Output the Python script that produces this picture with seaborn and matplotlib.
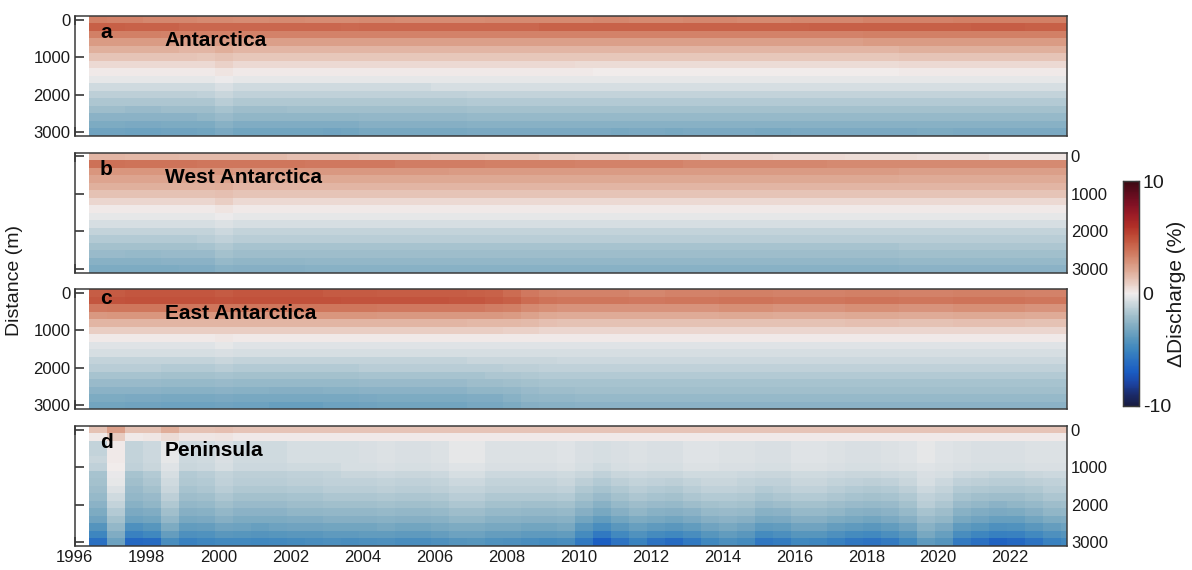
import matplotlib
matplotlib.use("Agg")
import matplotlib.pyplot as plt
import numpy as np
import pandas as pd
import seaborn as sns
from matplotlib.colors import LinearSegmentedColormap

# Centre of each half-yearly time step (decimal year)
epochs = [1996.65, 1997.15, 1997.65, 1998.15, 1998.65, 1999.15, 1999.65, 2000.15, 2000.65,
          2001.15, 2001.65, 2002.15, 2002.65, 2003.15, 2003.65, 2004.15, 2004.65, 2005.15,
          2005.65, 2006.15, 2006.65, 2007.15, 2007.65, 2008.15, 2008.65, 2009.15, 2009.65,
          2010.15, 2010.65, 2011.15, 2011.65, 2012.15, 2012.65, 2013.15, 2013.65, 2014.15,
          2014.65, 2015.15, 2015.65, 2016.15, 2016.65, 2017.15, 2017.65, 2018.15, 2018.65,
          2019.15, 2019.65, 2020.15, 2020.65, 2021.15, 2021.65, 2022.15, 2022.65, 2023.15,
          2023.65]

# Distance bins (m)
distances = [0, 200, 400, 600, 800, 1000, 1200, 1400, 1600, 1800, 2000, 2200, 2400, 2600, 2800, 3000]

# Discharge change, one 0-3000 m profile per time step, in tenths of a percent
antarctica = [
    [34, 44, 34, 25, 18, 12, 6, 1, -3, -8, -13, -17, -21, -26, -30, -34],
    [33, 44, 34, 25, 18, 12, 6, 1, -3, -8, -13, -17, -21, -26, -30, -34],
    [33, 43, 34, 25, 18, 12, 6, 1, -3, -8, -13, -17, -22, -26, -31, -35],
    [32, 43, 34, 25, 18, 12, 6, 1, -3, -8, -13, -17, -22, -26, -31, -35],
    [32, 43, 33, 25, 18, 12, 6, 1, -3, -8, -13, -17, -21, -26, -30, -34],
    [32, 42, 33, 24, 17, 12, 6, 1, -3, -8, -13, -17, -21, -26, -30, -34],
    [31, 42, 33, 24, 17, 11, 6, 1, -3, -8, -12, -17, -21, -25, -30, -33],
    [31, 42, 33, 25, 19, 13, 8, 3, -1, -6, -10, -14, -18, -22, -27, -31],
    [30, 42, 33, 24, 17, 11, 6, 1, -3, -8, -12, -16, -21, -25, -29, -33],
    [30, 42, 33, 24, 17, 11, 6, 1, -3, -8, -12, -16, -21, -25, -29, -33],
    [31, 42, 33, 24, 17, 11, 6, 1, -3, -8, -12, -16, -21, -25, -29, -33],
    [31, 42, 33, 24, 17, 11, 6, 1, -3, -8, -12, -16, -20, -25, -29, -33],
    [30, 42, 33, 24, 17, 11, 6, 1, -3, -8, -12, -16, -20, -25, -29, -33],
    [30, 42, 33, 24, 17, 11, 6, 1, -3, -8, -12, -16, -20, -25, -29, -34],
    [30, 41, 33, 24, 17, 11, 6, 1, -3, -8, -12, -16, -20, -25, -29, -33],
    [31, 42, 33, 24, 17, 11, 6, 1, -3, -8, -12, -16, -20, -24, -28, -32],
    [31, 42, 33, 24, 17, 11, 6, 1, -3, -8, -12, -16, -20, -24, -28, -32],
    [30, 42, 33, 24, 17, 11, 6, 1, -3, -8, -12, -16, -20, -24, -28, -32],
    [30, 42, 33, 24, 17, 11, 6, 1, -3, -8, -12, -16, -20, -24, -28, -32],
    [30, 42, 33, 24, 17, 11, 6, 1, -3, -7, -12, -16, -20, -24, -28, -32],
    [30, 42, 33, 24, 17, 11, 6, 1, -3, -7, -12, -16, -20, -24, -28, -32],
    [30, 42, 33, 24, 17, 11, 6, 1, -3, -7, -11, -15, -19, -23, -27, -31],
    [31, 42, 33, 24, 17, 11, 6, 1, -3, -7, -11, -15, -19, -23, -27, -31],
    [31, 42, 33, 24, 17, 11, 6, 1, -3, -7, -11, -15, -19, -23, -27, -31],
    [31, 42, 33, 24, 17, 11, 6, 1, -3, -7, -11, -15, -19, -23, -27, -31],
    [31, 43, 33, 24, 17, 11, 6, 1, -3, -7, -11, -15, -19, -23, -27, -31],
    [31, 43, 33, 24, 17, 11, 6, 1, -3, -7, -11, -15, -19, -23, -27, -31],
    [31, 43, 33, 24, 17, 11, 5, 1, -3, -7, -11, -15, -19, -23, -27, -31],
    [32, 43, 33, 24, 17, 11, 5, 0, -3, -7, -11, -15, -19, -23, -27, -31],
    [32, 43, 33, 24, 17, 11, 5, 0, -3, -7, -11, -15, -19, -23, -27, -32],
    [31, 43, 33, 24, 17, 11, 5, 0, -3, -7, -11, -15, -19, -23, -27, -31],
    [31, 43, 33, 24, 17, 11, 5, 0, -3, -7, -11, -15, -19, -23, -27, -31],
    [31, 43, 33, 24, 17, 11, 5, 0, -3, -7, -11, -15, -19, -23, -27, -32],
    [32, 43, 33, 24, 17, 11, 5, 0, -3, -7, -11, -15, -19, -23, -27, -31],
    [32, 43, 33, 24, 17, 11, 5, 0, -3, -7, -11, -15, -19, -23, -27, -31],
    [32, 43, 33, 24, 17, 11, 5, 0, -3, -7, -11, -15, -19, -23, -27, -31],
    [31, 43, 33, 24, 17, 11, 5, 0, -3, -7, -11, -15, -19, -23, -27, -31],
    [31, 43, 33, 24, 17, 11, 5, 0, -3, -7, -11, -15, -19, -23, -27, -32],
    [31, 43, 33, 24, 17, 11, 5, 0, -3, -7, -11, -15, -19, -23, -27, -32],
    [32, 43, 33, 24, 17, 11, 5, 0, -3, -7, -11, -15, -19, -23, -27, -31],
    [32, 44, 33, 24, 17, 11, 5, 0, -3, -7, -11, -15, -19, -23, -27, -31],
    [32, 44, 33, 24, 17, 11, 5, 0, -3, -7, -11, -15, -19, -23, -27, -31],
    [32, 44, 33, 24, 17, 11, 5, 0, -3, -7, -11, -15, -19, -23, -27, -31],
    [33, 44, 34, 25, 17, 11, 5, 0, -3, -7, -11, -15, -19, -23, -27, -31],
    [33, 44, 34, 25, 17, 11, 5, 0, -3, -7, -11, -15, -19, -23, -27, -31],
    [33, 44, 34, 25, 18, 12, 6, 1, -3, -7, -11, -15, -19, -23, -27, -31],
    [33, 44, 34, 25, 18, 12, 6, 1, -3, -7, -11, -15, -19, -23, -27, -30],
    [33, 44, 34, 25, 18, 12, 6, 1, -3, -7, -11, -15, -19, -23, -27, -30],
    [34, 44, 34, 25, 18, 12, 6, 1, -3, -7, -11, -15, -19, -23, -27, -31],
    [34, 45, 34, 25, 18, 12, 6, 1, -3, -7, -11, -15, -19, -23, -27, -31],
    [34, 45, 34, 25, 18, 12, 6, 1, -3, -7, -11, -15, -19, -23, -27, -31],
    [34, 45, 34, 25, 18, 12, 6, 1, -3, -7, -11, -15, -19, -23, -27, -31],
    [34, 44, 34, 25, 18, 12, 6, 1, -3, -7, -11, -15, -19, -23, -27, -31],
    [34, 44, 34, 25, 18, 12, 6, 1, -3, -7, -11, -15, -19, -23, -27, -31],
    [34, 44, 34, 25, 18, 12, 6, 1, -3, -7, -11, -15, -19, -23, -27, -31],
]

west_antarctica = [
    [17, 39, 27, 22, 18, 13, 7, 1, -3, -7, -11, -15, -19, -22, -27, -30],
    [17, 39, 27, 22, 18, 13, 7, 1, -3, -7, -11, -15, -19, -22, -27, -30],
    [16, 38, 27, 22, 18, 13, 7, 1, -3, -7, -11, -15, -19, -23, -27, -30],
    [16, 38, 27, 22, 18, 13, 7, 1, -3, -7, -11, -15, -19, -23, -27, -30],
    [16, 38, 27, 22, 18, 13, 7, 1, -3, -7, -11, -15, -19, -22, -26, -30],
    [15, 38, 27, 22, 18, 13, 7, 1, -3, -7, -11, -15, -19, -22, -26, -29],
    [15, 37, 27, 22, 18, 13, 7, 1, -3, -7, -11, -14, -18, -22, -26, -29],
    [15, 37, 27, 23, 19, 14, 9, 3, -1, -5, -9, -12, -16, -19, -23, -27],
    [15, 37, 26, 21, 17, 12, 6, 1, -3, -7, -11, -14, -18, -21, -25, -28],
    [15, 37, 26, 21, 17, 12, 6, 1, -3, -7, -11, -14, -18, -21, -25, -28],
    [15, 37, 26, 21, 17, 12, 6, 1, -3, -7, -11, -14, -18, -21, -25, -28],
    [14, 37, 26, 21, 17, 12, 6, 1, -3, -7, -11, -14, -18, -21, -25, -28],
    [14, 36, 26, 21, 17, 12, 6, 1, -3, -7, -11, -14, -18, -21, -24, -27],
    [14, 36, 26, 21, 17, 12, 6, 1, -3, -7, -11, -14, -18, -21, -24, -27],
    [14, 36, 26, 21, 17, 12, 6, 1, -3, -7, -11, -14, -18, -21, -24, -27],
    [13, 36, 26, 21, 17, 12, 6, 1, -3, -7, -11, -14, -18, -21, -24, -27],
    [13, 36, 26, 21, 17, 12, 6, 1, -3, -7, -11, -14, -18, -21, -24, -27],
    [13, 35, 26, 21, 17, 12, 6, 1, -3, -7, -11, -14, -18, -21, -24, -27],
    [13, 35, 26, 21, 17, 12, 6, 1, -3, -7, -11, -14, -18, -21, -24, -27],
    [12, 35, 26, 21, 17, 12, 6, 1, -3, -7, -11, -14, -18, -21, -24, -27],
    [12, 35, 25, 21, 17, 12, 6, 1, -3, -7, -11, -14, -18, -21, -24, -27],
    [12, 35, 25, 21, 17, 12, 6, 1, -3, -7, -11, -14, -18, -21, -24, -27],
    [11, 34, 25, 21, 17, 12, 6, 1, -3, -7, -11, -14, -18, -21, -24, -27],
    [11, 34, 25, 21, 17, 12, 6, 1, -3, -7, -11, -14, -18, -21, -24, -27],
    [11, 34, 25, 21, 17, 12, 6, 1, -3, -7, -11, -14, -18, -21, -24, -27],
    [10, 34, 25, 21, 17, 12, 6, 1, -3, -7, -11, -14, -18, -21, -24, -27],
    [10, 34, 25, 21, 17, 12, 6, 1, -3, -7, -11, -14, -18, -21, -24, -27],
    [9, 33, 25, 21, 17, 12, 6, 1, -3, -7, -11, -14, -18, -21, -24, -27],
    [9, 33, 25, 21, 17, 12, 6, 1, -3, -7, -11, -14, -18, -21, -24, -27],
    [9, 33, 25, 21, 17, 12, 6, 1, -3, -7, -11, -14, -18, -21, -24, -27],
    [8, 33, 25, 21, 17, 12, 6, 1, -3, -7, -11, -14, -18, -21, -24, -27],
    [8, 33, 25, 21, 17, 12, 6, 1, -3, -7, -11, -14, -18, -21, -24, -27],
    [8, 33, 25, 21, 17, 12, 6, 1, -3, -7, -11, -14, -18, -21, -24, -27],
    [8, 32, 25, 21, 17, 12, 6, 1, -3, -7, -11, -14, -18, -21, -24, -27],
    [7, 32, 25, 21, 17, 12, 6, 1, -3, -7, -11, -14, -18, -21, -24, -27],
    [7, 32, 25, 21, 17, 12, 6, 1, -3, -7, -11, -14, -18, -21, -24, -27],
    [7, 32, 25, 21, 17, 12, 6, 1, -3, -7, -11, -14, -18, -21, -24, -27],
    [7, 32, 25, 21, 17, 12, 6, 1, -3, -7, -11, -14, -18, -21, -24, -27],
    [6, 32, 25, 21, 17, 12, 6, 1, -3, -7, -11, -14, -18, -21, -24, -27],
    [6, 32, 25, 21, 17, 12, 6, 1, -3, -7, -11, -14, -18, -21, -24, -27],
    [6, 32, 25, 21, 17, 12, 6, 1, -3, -7, -11, -14, -18, -21, -24, -27],
    [6, 31, 25, 21, 17, 12, 6, 1, -3, -7, -11, -14, -18, -21, -24, -27],
    [5, 31, 25, 21, 17, 12, 6, 1, -3, -7, -11, -14, -18, -21, -24, -27],
    [5, 31, 25, 21, 17, 12, 6, 1, -3, -7, -11, -14, -18, -21, -24, -27],
    [5, 31, 25, 21, 17, 12, 6, 1, -3, -7, -11, -14, -18, -21, -24, -27],
    [5, 31, 24, 20, 17, 12, 6, 1, -3, -7, -11, -14, -17, -20, -23, -26],
    [4, 31, 24, 20, 17, 12, 6, 1, -3, -7, -11, -14, -17, -20, -23, -26],
    [4, 31, 24, 20, 17, 12, 6, 1, -3, -7, -11, -14, -17, -20, -23, -26],
    [4, 31, 24, 20, 17, 12, 6, 1, -3, -7, -11, -14, -17, -20, -23, -26],
    [4, 31, 24, 20, 17, 12, 6, 1, -3, -7, -11, -14, -17, -20, -23, -26],
    [3, 31, 24, 20, 17, 12, 6, 1, -3, -7, -11, -14, -17, -20, -23, -26],
    [3, 31, 24, 20, 17, 12, 6, 1, -3, -7, -11, -14, -17, -20, -23, -26],
    [3, 31, 24, 20, 17, 12, 6, 1, -3, -7, -11, -14, -17, -20, -23, -26],
    [3, 31, 24, 20, 17, 12, 6, 1, -3, -7, -11, -14, -17, -20, -23, -26],
    [3, 31, 24, 20, 17, 12, 6, 1, -3, -7, -11, -14, -17, -20, -23, -26],
]

east_antarctica = [
    [45, 47, 36, 26, 17, 9, 1, -4, -7, -11, -14, -18, -22, -26, -30, -33],
    [46, 48, 37, 27, 17, 9, 1, -4, -7, -11, -14, -18, -22, -26, -30, -33],
    [47, 49, 37, 27, 17, 9, 1, -4, -7, -11, -14, -18, -22, -26, -31, -34],
    [47, 49, 37, 27, 17, 9, 1, -4, -7, -11, -14, -18, -22, -26, -31, -34],
    [47, 49, 37, 27, 17, 9, 1, -4, -7, -11, -15, -19, -23, -27, -32, -35],
    [47, 49, 37, 27, 17, 9, 1, -4, -7, -11, -15, -19, -23, -27, -32, -35],
    [47, 49, 37, 27, 17, 9, 1, -4, -7, -11, -15, -19, -23, -27, -32, -35],
    [46, 48, 37, 27, 17, 9, 2, -3, -6, -10, -14, -18, -22, -26, -31, -34],
    [47, 49, 37, 27, 17, 9, 1, -4, -7, -11, -15, -19, -23, -27, -32, -35],
    [47, 49, 37, 27, 17, 9, 1, -4, -7, -11, -15, -19, -23, -27, -32, -35],
    [47, 49, 37, 27, 17, 9, 1, -4, -7, -11, -15, -19, -23, -28, -32, -36],
    [47, 49, 37, 27, 17, 9, 1, -4, -7, -11, -15, -19, -23, -28, -32, -36],
    [47, 49, 37, 27, 17, 9, 1, -4, -7, -11, -15, -19, -23, -28, -32, -36],
    [46, 49, 37, 27, 17, 9, 1, -4, -7, -11, -15, -19, -23, -27, -32, -35],
    [46, 48, 37, 27, 17, 9, 1, -4, -7, -11, -15, -19, -23, -27, -32, -35],
    [46, 48, 37, 27, 17, 9, 1, -4, -7, -11, -14, -18, -22, -26, -31, -34],
    [45, 48, 36, 26, 17, 9, 1, -4, -7, -11, -14, -18, -22, -26, -30, -33],
    [45, 48, 36, 26, 17, 9, 1, -4, -7, -11, -14, -18, -22, -26, -30, -33],
    [45, 48, 36, 26, 17, 9, 1, -4, -7, -11, -14, -18, -22, -26, -30, -33],
    [45, 48, 36, 26, 17, 9, 1, -4, -7, -11, -14, -18, -22, -26, -30, -33],
    [45, 47, 36, 26, 17, 9, 1, -4, -7, -11, -14, -18, -22, -26, -30, -33],
    [44, 47, 36, 26, 16, 9, 1, -4, -7, -10, -14, -18, -21, -25, -29, -32],
    [43, 46, 35, 26, 16, 9, 1, -4, -7, -10, -14, -17, -21, -25, -29, -32],
    [40, 44, 34, 25, 16, 8, 1, -4, -7, -10, -13, -17, -20, -24, -27, -30],
    [36, 40, 31, 23, 15, 8, 1, -4, -7, -10, -13, -16, -19, -22, -25, -28],
    [34, 38, 29, 21, 14, 7, 1, -4, -7, -10, -12, -15, -18, -21, -24, -27],
    [33, 37, 28, 20, 13, 7, 1, -4, -7, -9, -12, -15, -18, -21, -24, -27],
    [33, 37, 28, 20, 13, 7, 1, -4, -7, -9, -12, -15, -18, -20, -23, -26],
    [33, 37, 28, 20, 13, 7, 1, -4, -7, -9, -12, -15, -18, -20, -23, -26],
    [33, 37, 28, 20, 13, 7, 1, -4, -7, -9, -12, -15, -18, -20, -23, -26],
    [32, 36, 28, 20, 13, 7, 1, -4, -7, -9, -12, -15, -18, -20, -23, -26],
    [32, 36, 28, 20, 13, 7, 1, -4, -7, -9, -12, -15, -18, -20, -23, -26],
    [33, 37, 28, 20, 13, 7, 1, -4, -7, -9, -12, -15, -18, -20, -23, -26],
    [33, 37, 28, 20, 13, 7, 1, -4, -7, -9, -12, -15, -18, -20, -23, -26],
    [33, 37, 28, 20, 13, 7, 1, -4, -7, -9, -12, -15, -18, -20, -23, -26],
    [34, 38, 29, 21, 13, 7, 1, -4, -7, -9, -12, -15, -18, -20, -23, -26],
    [34, 38, 29, 21, 13, 7, 1, -4, -7, -9, -12, -15, -18, -20, -23, -26],
    [34, 38, 29, 21, 13, 7, 1, -4, -7, -9, -12, -15, -18, -20, -23, -26],
    [33, 37, 28, 20, 13, 7, 1, -4, -7, -9, -12, -15, -18, -20, -23, -26],
    [33, 37, 28, 20, 13, 7, 1, -4, -7, -9, -12, -15, -18, -20, -23, -26],
    [33, 37, 28, 20, 13, 7, 1, -4, -7, -9, -12, -15, -18, -20, -23, -26],
    [33, 37, 28, 20, 13, 7, 1, -4, -7, -9, -12, -15, -18, -20, -23, -26],
    [34, 38, 29, 21, 14, 7, 1, -4, -7, -9, -12, -15, -18, -20, -23, -26],
    [34, 38, 29, 21, 14, 7, 1, -4, -7, -9, -12, -15, -18, -20, -23, -26],
    [34, 38, 29, 21, 14, 7, 1, -4, -7, -9, -12, -15, -18, -20, -23, -26],
    [33, 37, 28, 20, 13, 7, 1, -4, -7, -9, -12, -15, -18, -20, -23, -26],
    [33, 37, 28, 20, 13, 7, 1, -4, -7, -9, -12, -15, -18, -20, -23, -26],
    [33, 37, 28, 20, 13, 7, 1, -4, -7, -9, -12, -15, -18, -20, -23, -26],
    [34, 38, 29, 21, 14, 7, 1, -4, -7, -9, -12, -15, -18, -20, -23, -26],
    [34, 38, 29, 21, 14, 7, 1, -4, -7, -9, -12, -15, -18, -20, -23, -26],
    [34, 38, 29, 21, 14, 7, 1, -4, -7, -9, -12, -15, -18, -20, -23, -26],
    [34, 38, 29, 21, 14, 7, 1, -4, -7, -9, -12, -15, -18, -20, -23, -26],
    [33, 37, 28, 20, 13, 7, 1, -4, -7, -9, -12, -15, -18, -20, -23, -26],
    [33, 37, 28, 20, 13, 7, 1, -4, -7, -9, -12, -15, -18, -20, -23, -26],
    [33, 37, 28, 20, 13, 7, 1, -4, -7, -9, -12, -15, -18, -20, -23, -26],
]

peninsula = [
    [13, 1, -11, -11, -10, -12, -18, -19, -21, -23, -26, -30, -34, -42, -50, -60],
    [24, 10, 1, 1, 1, 0, -2, -3, -5, -8, -11, -15, -19, -24, -29, -35],
    [13, 1, -11, -11, -11, -12, -18, -20, -22, -24, -27, -31, -35, -44, -52, -64],
    [13, 2, -9, -9, -9, -10, -15, -17, -19, -22, -25, -29, -33, -41, -49, -62],
    [19, 5, -3, -3, -3, -4, -7, -8, -10, -13, -16, -20, -24, -30, -37, -46],
    [13, 2, -9, -9, -9, -10, -15, -16, -18, -21, -24, -28, -32, -38, -44, -52],
    [13, 2, -8, -8, -8, -9, -14, -15, -17, -20, -23, -27, -31, -37, -43, -50],
    [14, 3, -6, -6, -6, -7, -11, -12, -14, -17, -20, -24, -28, -34, -40, -48],
    [12, 1, -8, -8, -8, -9, -13, -14, -16, -19, -22, -26, -30, -35, -41, -48],
    [12, 1, -8, -8, -8, -9, -13, -14, -16, -19, -22, -26, -30, -36, -42, -49],
    [12, 1, -8, -8, -8, -9, -13, -14, -16, -19, -22, -26, -30, -35, -41, -48],
    [12, 1, -7, -7, -7, -8, -12, -13, -15, -18, -21, -25, -29, -34, -40, -47],
    [12, 1, -7, -7, -7, -8, -12, -13, -15, -18, -21, -25, -29, -34, -40, -46],
    [12, 1, -7, -7, -7, -8, -11, -12, -14, -17, -20, -24, -28, -33, -39, -45],
    [12, 1, -7, -7, -7, -7, -10, -12, -14, -17, -20, -24, -28, -33, -39, -46],
    [12, 1, -6, -6, -6, -7, -10, -12, -14, -17, -20, -24, -28, -33, -38, -45],
    [12, 1, -5, -5, -5, -6, -9, -11, -13, -16, -19, -23, -27, -32, -38, -44],
    [12, 1, -6, -6, -6, -7, -10, -12, -14, -17, -20, -24, -28, -33, -39, -46],
    [12, 1, -6, -6, -6, -7, -10, -12, -14, -17, -20, -24, -28, -33, -39, -46],
    [12, 1, -5, -5, -5, -6, -9, -11, -13, -16, -19, -23, -27, -32, -37, -44],
    [12, 1, -3, -3, -3, -4, -7, -9, -11, -14, -17, -21, -25, -30, -35, -42],
    [12, 1, -3, -3, -3, -4, -7, -9, -11, -14, -17, -21, -25, -30, -35, -41],
    [12, 1, -5, -5, -5, -6, -9, -11, -13, -16, -19, -23, -27, -32, -37, -43],
    [12, 1, -5, -5, -5, -6, -9, -11, -13, -16, -19, -23, -27, -32, -37, -44],
    [12, 1, -5, -5, -5, -6, -9, -11, -13, -16, -20, -24, -28, -33, -39, -46],
    [12, 1, -5, -5, -5, -6, -9, -11, -13, -16, -20, -24, -28, -33, -39, -47],
    [12, 1, -4, -4, -4, -5, -8, -10, -12, -15, -19, -23, -27, -32, -38, -46],
    [12, 1, -6, -6, -6, -7, -10, -13, -16, -19, -23, -28, -33, -40, -47, -56],
    [12, 1, -7, -7, -7, -8, -12, -15, -18, -22, -27, -32, -38, -46, -56, -68],
    [12, 1, -6, -6, -6, -7, -10, -13, -16, -19, -23, -28, -33, -40, -48, -58],
    [12, 1, -5, -5, -5, -6, -9, -11, -14, -17, -21, -25, -30, -36, -43, -51],
    [12, 1, -6, -6, -6, -7, -10, -12, -15, -18, -22, -27, -32, -39, -47, -58],
    [12, 1, -6, -6, -6, -7, -10, -13, -16, -19, -23, -28, -33, -40, -49, -62],
    [12, 1, -4, -4, -4, -5, -8, -11, -14, -17, -21, -26, -31, -38, -46, -56],
    [12, 1, -4, -4, -4, -5, -8, -10, -12, -15, -19, -23, -28, -34, -41, -49],
    [12, 1, -5, -5, -5, -6, -8, -10, -12, -15, -18, -22, -26, -32, -38, -45],
    [12, 1, -5, -5, -5, -6, -9, -11, -13, -16, -19, -23, -28, -34, -40, -47],
    [12, 1, -6, -6, -6, -7, -10, -12, -15, -18, -22, -27, -32, -39, -47, -57],
    [12, 1, -6, -6, -6, -7, -10, -12, -14, -17, -21, -26, -31, -38, -45, -54],
    [12, 1, -4, -4, -4, -5, -8, -10, -12, -15, -19, -23, -28, -34, -41, -49],
    [12, 1, -4, -4, -4, -5, -8, -10, -12, -15, -19, -23, -28, -34, -41, -50],
    [12, 1, -5, -5, -5, -6, -9, -11, -14, -17, -21, -25, -30, -37, -44, -53],
    [12, 1, -6, -6, -6, -7, -10, -12, -15, -18, -22, -27, -32, -39, -47, -57],
    [12, 1, -6, -6, -6, -7, -10, -13, -16, -19, -23, -28, -33, -40, -48, -58],
    [12, 1, -5, -5, -5, -6, -9, -12, -15, -18, -22, -26, -31, -38, -45, -55],
    [12, 1, -4, -4, -4, -5, -8, -10, -13, -16, -19, -23, -28, -34, -40, -48],
    [12, 1, -3, -3, -3, -4, -6, -7, -9, -12, -14, -18, -22, -27, -32, -39],
    [12, 1, -4, -4, -4, -5, -7, -9, -11, -14, -17, -21, -25, -31, -36, -42],
    [12, 1, -5, -5, -5, -6, -9, -12, -15, -18, -22, -27, -32, -39, -46, -55],
    [12, 1, -6, -6, -6, -7, -10, -13, -16, -20, -24, -29, -34, -41, -50, -60],
    [12, 1, -6, -6, -6, -7, -11, -14, -17, -21, -26, -31, -36, -44, -53, -66],
    [12, 1, -6, -6, -6, -7, -11, -14, -17, -21, -25, -30, -36, -43, -52, -64],
    [12, 1, -5, -5, -5, -6, -10, -13, -16, -19, -23, -28, -33, -40, -48, -58],
    [12, 1, -5, -5, -5, -6, -9, -12, -14, -17, -21, -25, -30, -37, -44, -52],
    [12, 1, -5, -5, -5, -6, -9, -11, -14, -17, -20, -24, -29, -35, -42, -49],
]

region_names = ["Antarctica", "West Antarctica", "East Antarctica", "Peninsula"]
panel_letters = ["a", "b", "c", "d"]
year_ticks = [1996, 1998, 2000, 2002, 2004, 2006, 2008, 2010, 2012, 2014, 2016, 2018, 2020, 2022]
distance_ticks = [0, 1000, 2000, 3000]
colorbar_ticks = [-10, 0, 10]
first_year, last_year = 1996.0, 2023.57

# Diverging navy-white-maroon palette
balance = LinearSegmentedColormap.from_list("balance_like", [
    (0.00, "#181c43"), (0.05, "#1b2b6a"), (0.10, "#1c44a3"), (0.15, "#1a5cc2"),
    (0.20, "#2a70c2"), (0.25, "#3d86bf"), (0.30, "#5b98bd"), (0.35, "#7eabc2"),
    (0.40, "#a1bfcc"), (0.45, "#c8d6dc"), (0.50, "#f1eded"), (0.55, "#e8cbc0"),
    (0.60, "#dfab97"), (0.65, "#d68d74"), (0.70, "#cc6d53"), (0.75, "#c04e38"),
    (0.80, "#b12f27"), (0.85, "#9c1c26"), (0.90, "#7f1124"), (0.95, "#5e0c1d"),
    (1.00, "#3c0912")])

sns.set_style("ticks")
plt.rcParams["font.family"] = ["Liberation Sans", "DejaVu Sans"]
plt.rcParams["axes.unicode_minus"] = False

W, H = 1192, 570
fig = plt.figure(figsize=(W / 100, H / 100), dpi=100)


def pixel_axes(left, top, right, bottom):
    return fig.add_axes([left / W, 1 - bottom / H, (right - left) / W, (bottom - top) / H])


panel_boxes = [(74.7, 15.8, 1066.7, 135.8), (74.7, 152.5, 1066.7, 272.5),
               (74.7, 289.2, 1066.7, 409.2), (74.7, 425.9, 1066.7, 545.9)]
letter_y = [0.864, 0.862, 0.926, 0.858]
title_y = [0.797, 0.789, 0.798, 0.794]
cax = pixel_axes(1123, 181, 1138.5, 406)

half_step = (epochs[1] - epochs[0]) / 2
dz = distances[1] - distances[0]


def year_to_col(year):
    return (year - (epochs[0] - half_step)) / (2 * half_step)


def dist_to_row(d):
    return (d - (distances[0] - dz / 2)) / dz


edge = "#3a3a3a"
regions = [antarctica, west_antarctica, east_antarctica, peninsula]
for i, profiles in enumerate(regions):
    ax = pixel_axes(*panel_boxes[i])
    frame = pd.DataFrame(np.array(profiles, dtype=float).T / 10.0, index=distances, columns=epochs)
    sns.heatmap(frame, ax=ax, cmap=balance, vmin=-10, vmax=10,
                cbar=(i == 0), cbar_ax=cax if i == 0 else None,
                cbar_kws={"ticks": colorbar_ticks} if i == 0 else None,
                xticklabels=False, yticklabels=False)
    ax.set_facecolor("white")
    ax.set_xlim(year_to_col(first_year), year_to_col(last_year))
    ax.set_ylim(len(distances), 0)
    ax.set_xticks([year_to_col(y) for y in year_ticks])
    ax.set_yticks([dist_to_row(d) for d in distance_ticks])
    ax.set_xlabel("")
    ax.set_ylabel("")
    for sp in ax.spines.values():
        sp.set_visible(True)
        sp.set_color(edge)
        sp.set_linewidth(1.1)
    right_side = i in (1, 3)
    ax.tick_params(axis="both", which="major", direction="in", length=6.5, width=1.1,
                   color="#262626", labelsize=12, labelcolor="#1a1a1a",
                   top=True, bottom=True, left=True, right=True,
                   labelleft=not right_side, labelright=right_side,
                   labelbottom=(i == 3), labeltop=False, pad=3)
    ax.set_yticklabels([str(d) for d in distance_ticks])
    ax.set_xticklabels([str(y) for y in year_ticks])
    ax.text(0.0255, letter_y[i], panel_letters[i], transform=ax.transAxes,
            ha="left", va="center", fontsize=15, fontweight="bold", color="black")
    ax.text(0.091, title_y[i], region_names[i], transform=ax.transAxes,
            ha="left", va="center", fontsize=15, fontweight="bold", color="black")

cax.tick_params(direction="in", length=3, width=0.8, color="#444444", labelsize=14,
                labelcolor="#1a1a1a", pad=3)
cax.set_yticklabels(["-10", "0", "10"])
for sp in cax.spines.values():
    sp.set_visible(True)
    sp.set_color(edge)
    sp.set_linewidth(0.9)

fig.text(1177 / W, 1 - 293.5 / H, "\u0394Discharge (%)", rotation=90, ha="center", va="center",
         fontsize=15, color="#1a1a1a")
fig.text(15 / W, 1 - 280 / H, "Distance (m)", rotation=90, ha="center", va="center",
         fontsize=14, color="#1a1a1a")

fig.savefig("out.png", dpi=100)
